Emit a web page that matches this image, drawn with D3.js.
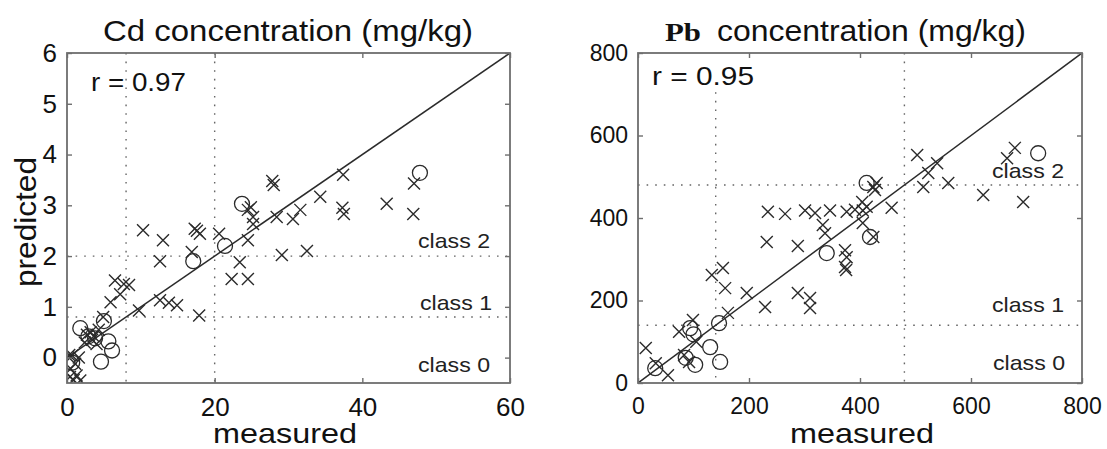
<!DOCTYPE html>
<html>
<head>
<meta charset="utf-8">
<script src="https://cdn.jsdelivr.net/npm/d3@7"></script>
<style>
  html, body { margin: 0; background: #fff; }
  svg { display: block; font-family: "Liberation Sans", Arial, Helvetica, sans-serif; }
</style>
</head>
<body>
<svg id="chart" width="1107" height="449"></svg>
<script>
// ---- Cd: measured vs predicted (mg/kg) ----
const cdXTicks = [0, 20, 40, 60];
const cdYTicks = [0, 1, 2, 3, 4, 5, 6];
const cdMeasuredLimits = [8, 20];
const cdPredictedLimits = [0.8, 2];
const cdR = "0.97";
// calibration samples (crosses): [measured, predicted]
const cdCrosses = [
  [27.8, 3.48], [28.0, 3.40], [37.4, 3.60], [34.3, 3.17], [43.3, 3.03], [47.0, 3.43],
  [46.9, 2.83], [37.3, 2.95], [37.5, 2.83], [24.5, 2.91], [24.9, 2.96], [25.2, 2.77],
  [25.2, 2.63], [28.4, 2.77], [30.6, 2.73], [31.6, 2.91], [10.3, 2.51], [13.0, 2.31],
  [17.6, 2.50], [18.0, 2.44], [17.3, 2.54], [20.6, 2.44], [24.5, 2.31], [12.6, 1.90],
  [16.9, 2.08], [23.4, 1.88], [22.3, 1.55], [24.5, 1.55], [29.1, 2.02], [32.5, 2.10],
  [6.5, 1.52], [7.7, 1.45], [8.4, 1.43], [7.2, 1.25], [5.9, 1.09], [9.75, 0.93],
  [12.6, 1.13], [13.8, 1.08], [14.9, 1.03], [17.9, 0.83], [3.4, 0.35], [4.0, 0.27],
  [2.7, 0.45], [4.3, 0.55], [0.7, 0.04], [1.1, -0.12], [1.3, -0.35], [0.9, -0.44],
  [0.3, 0.05], [0.5, -0.22], [4.9, 0.80], [3.2, 0.50], [3.6, 0.42], [2.4, 0.30],
  [1.6, 0.00], [0.4, -0.38], [1.8, -0.45]
];
// validation samples (circles)
const cdCircles = [
  [47.8, 3.64], [23.7, 3.03], [21.4, 2.20], [17.1, 1.90], [5.0, 0.72], [1.8, 0.58],
  [3.8, 0.38], [5.6, 0.32], [6.1, 0.14], [4.6, -0.08], [2.9, 0.42], [0.7, -0.10]
];

// ---- Pb: measured vs predicted (mg/kg) ----
const pbTicks = [0, 200, 400, 600, 800];
const pbLimits = [140, 480];
const pbR = "0.95";
const pbCrosses = [
  [503, 553], [539, 533], [523, 509], [514, 475], [559, 485], [622, 456], [694, 439],
  [665, 545], [679, 570], [424, 475], [430, 485], [427, 468], [234, 415], [265, 410],
  [301, 418], [319, 412], [346, 418], [376, 415], [391, 420], [405, 418], [457, 425],
  [404, 439], [412, 427], [333, 383], [337, 363], [405, 388], [424, 354], [232, 342],
  [288, 332], [373, 322], [376, 305], [373, 281], [375, 274], [153, 279], [133, 262],
  [157, 230], [196, 218], [229, 184], [288, 218], [310, 206], [310, 182], [162, 170],
  [99, 153], [74, 124], [14, 85], [83, 68], [92, 51], [32, 48], [54, 19], [105, 100]
];
const pbCircles = [
  [721, 557], [412, 485], [418, 354], [340, 315], [146, 145], [94, 133], [100, 118],
  [130, 87], [148, 51], [103, 44], [86, 61], [31, 36]
];
const classNames = ["class 0", "class 1", "class 2"];

const svg = d3.select("#chart");
const INK = "#2b2b2b";
const FRAME = "#6e6e6e";
const DOT = "#666";

function panel(opt) {
  const x = d3.scaleLinear().domain(opt.xDomain).range([opt.left, opt.right]);
  const y = d3.scaleLinear().domain(opt.yDomain).range([opt.bottom, opt.top]);
  const g = svg.append("g");

  g.append("defs").append("clipPath").attr("id", opt.id + "-clip")
    .append("rect").attr("x", opt.left).attr("y", opt.top)
    .attr("width", opt.right - opt.left).attr("height", opt.bottom - opt.top);

  const plot = g.append("g").attr("clip-path", `url(#${opt.id}-clip)`);

  // class boundaries
  opt.vLimits.forEach((v, i) => {
    plot.append("line")
      .attr("x1", x(v)).attr("x2", x(v))
      .attr("y1", y(opt.vTop ? opt.vTop[i] : opt.yDomain[1])).attr("y2", y(opt.yDomain[0]))
      .attr("stroke", DOT).attr("stroke-width", 1.4).attr("stroke-dasharray", "1.6,7");
  });
  opt.hLimits.forEach(v => {
    plot.append("line")
      .attr("x1", x(opt.xDomain[0])).attr("x2", x(opt.xDomain[1]))
      .attr("y1", y(v)).attr("y2", y(v))
      .attr("stroke", DOT).attr("stroke-width", 1.4).attr("stroke-dasharray", "1.6,7");
  });

  // 1:1 line
  plot.append("line")
    .attr("x1", x(opt.xDomain[0])).attr("y1", y(opt.xDomain[0] * opt.ratio))
    .attr("x2", x(opt.xDomain[1])).attr("y2", y(opt.xDomain[1] * opt.ratio))
    .attr("stroke", INK).attr("stroke-width", 1.5);

  // crosses
  const s = 6;
  plot.selectAll("path.cross").data(opt.crosses).join("path")
    .attr("class", "cross")
    .attr("transform", d => `translate(${x(d[0])},${y(d[1])})`)
    .attr("d", `M${-s},${-s}L${s},${s}M${-s},${s}L${s},${-s}`)
    .attr("stroke", INK).attr("stroke-width", 1.4).attr("fill", "none");

  // circles
  plot.selectAll("circle.val").data(opt.circles).join("circle")
    .attr("class", "val")
    .attr("cx", d => x(d[0])).attr("cy", d => y(d[1])).attr("r", 7.5)
    .attr("stroke", INK).attr("stroke-width", 1.3).attr("fill", "none");

  // inward ticks on all four sides
  const tk = 5;
  const styleAxis = (sel, fontSize) => {
    sel.select(".domain").remove();
    sel.selectAll(".tick line").attr("stroke", FRAME).attr("stroke-width", 1.4);
    sel.selectAll(".tick text").attr("fill", "#111").style("font-size", fontSize + "px")
      .style("font-family", '"Liberation Sans", Arial, sans-serif');
  };
  g.append("g").attr("transform", `translate(0,${opt.bottom})`)
    .call(d3.axisBottom(x).tickValues(opt.xTicks).tickSize(-tk).tickPadding(opt.xPad).tickFormat(d3.format("d")))
    .call(sel => styleAxis(sel, opt.xFont));
  g.append("g").attr("transform", `translate(0,${opt.top})`)
    .call(d3.axisTop(x).tickValues(opt.xTicks).tickSize(-tk).tickFormat(""))
    .call(sel => styleAxis(sel, opt.xFont));
  g.append("g").attr("transform", `translate(${opt.left},0)`)
    .call(d3.axisLeft(y).tickValues(opt.yTicks).tickSize(-tk).tickPadding(opt.yPad).tickFormat(d3.format("d")))
    .call(sel => styleAxis(sel, opt.yFont));
  g.append("g").attr("transform", `translate(${opt.right},0)`)
    .call(d3.axisRight(y).tickValues(opt.yTicks).tickSize(-tk).tickFormat(""))
    .call(sel => styleAxis(sel, opt.yFont));

  // frame
  g.append("rect")
    .attr("x", opt.left).attr("y", opt.top)
    .attr("width", opt.right - opt.left).attr("height", opt.bottom - opt.top)
    .attr("fill", "none").attr("stroke", FRAME).attr("stroke-width", 1.8);

  // correlation label
  g.append("text")
    .attr("x", opt.left + opt.rDx).attr("y", opt.rY)
    .attr("textLength", opt.rLen).attr("lengthAdjust", "spacingAndGlyphs")
    .style("font-size", "25px").attr("fill", "#111")
    .text("r = " + opt.r);

  // class labels
  opt.classPos.forEach((p, i) => {
    g.append("text")
      .attr("x", p[0]).attr("y", p[1])
      .attr("textLength", 72).attr("lengthAdjust", "spacingAndGlyphs")
      .style("font-size", "21px").attr("fill", "#222")
      .text(classNames[i]);
  });

  // x-axis title
  g.append("text")
    .attr("x", opt.measuredX).attr("y", 443)
    .attr("text-anchor", "middle")
    .attr("textLength", 144).attr("lengthAdjust", "spacingAndGlyphs")
    .style("font-size", "28px").attr("fill", "#111")
    .text("measured");

  return g;
}

panel({
  id: "cd",
  xDomain: [0, 60], yDomain: [-0.5, 6], ratio: 0.1,
  left: 67, right: 510, top: 53, bottom: 383,
  xTicks: cdXTicks, yTicks: cdYTicks,
  vLimits: cdMeasuredLimits, hLimits: cdPredictedLimits,
  crosses: cdCrosses, circles: cdCircles,
  xPad: 15, yPad: 10, xFont: 26, yFont: 26,
  r: cdR, rDx: 24, rY: 91, rLen: 95,
  classPos: [[418, 372], [420, 310], [418, 248]],
  measuredX: 285
});

panel({
  id: "pb",
  xDomain: [0, 800], yDomain: [0, 800], ratio: 1,
  left: 638, right: 1082, top: 53, bottom: 383,
  xTicks: pbTicks, yTicks: pbTicks,
  vLimits: pbLimits, vTop: [705, 800], hLimits: pbLimits,
  crosses: pbCrosses, circles: pbCircles,
  xPad: 15, yPad: 10, xFont: 23, yFont: 23,
  r: pbR, rDx: 14, rY: 85, rLen: 102,
  classPos: [[993, 370], [992, 312], [992, 178]],
  measuredX: 862
});

// panel titles
svg.append("text")
  .attr("x", 103).attr("y", 41)
  .attr("textLength", 370).attr("lengthAdjust", "spacingAndGlyphs")
  .style("font-size", "29px").attr("fill", "#111")
  .text("Cd concentration (mg/kg)");

svg.append("text")
  .attr("x", 665).attr("y", 41)
  .attr("textLength", 36).attr("lengthAdjust", "spacingAndGlyphs")
  .style("font-size", "25px").style("font-weight", "bold")
  .style("font-family", '"Liberation Serif", "Times New Roman", serif')
  .attr("fill", "#111")
  .text("Pb");
svg.append("text")
  .attr("x", 717).attr("y", 41)
  .attr("textLength", 309).attr("lengthAdjust", "spacingAndGlyphs")
  .style("font-size", "29px").attr("fill", "#111")
  .text("concentration (mg/kg)");

// y-axis title (left panel only)
svg.append("text")
  .attr("transform", "translate(36,222) rotate(-90)")
  .attr("text-anchor", "middle")
  .attr("textLength", 130).attr("lengthAdjust", "spacingAndGlyphs")
  .style("font-size", "29px").attr("fill", "#111")
  .text("predicted");
</script>
</body>
</html>
